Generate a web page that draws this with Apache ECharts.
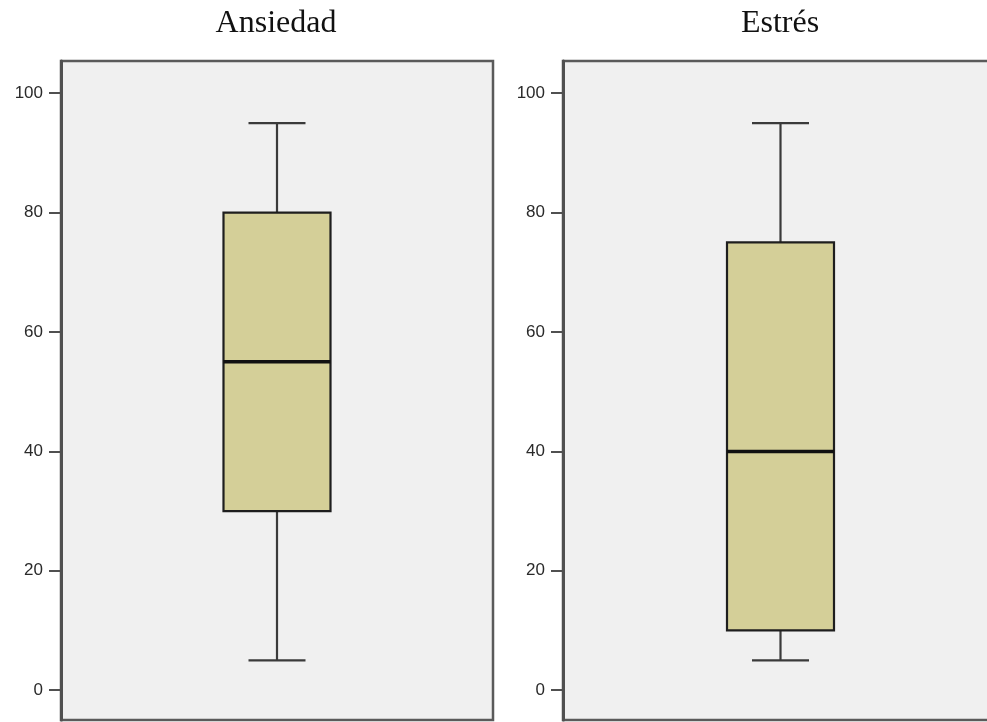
<!DOCTYPE html>
<html>
<head>
<meta charset="utf-8">
<script src="https://cdn.jsdelivr.net/npm/echarts@6/dist/echarts.min.js"></script>
<style>
html,body{margin:0;padding:0;background:#fff;}
#chart{width:987px;height:722px;}
</style>
</head>
<body>
<div id="chart"></div>
<script>
// ---- data ----
const panelTitles = ['Ansiedad', 'Estrés'];
// [min whisker, Q1, median, Q3, max whisker]
const ansiedad = [5, 30, 55, 80, 95];
const estres = [5, 10, 40, 75, 95];
const yTicks = [0, 20, 40, 60, 80, 100];
const yMin = -5;
const yMax = 105.4;

const chart = echarts.init(document.getElementById('chart'));

const BOX_W = 107, CAP_W = 57;

function renderBox(params, api) {
  const c = api.value(0);
  const pLow = api.coord([c, api.value(1)]);
  const pQ1 = api.coord([c, api.value(2)]);
  const pMed = api.coord([c, api.value(3)]);
  const pQ3 = api.coord([c, api.value(4)]);
  const pHigh = api.coord([c, api.value(5)]);
  const x = pMed[0];
  const wStyle = {stroke: '#3a3a3a', lineWidth: 2.2};
  return {
    type: 'group',
    children: [
      {type: 'line', shape: {x1: x, y1: pHigh[1], x2: x, y2: pQ3[1]}, style: wStyle},
      {type: 'line', shape: {x1: x, y1: pQ1[1], x2: x, y2: pLow[1]}, style: wStyle},
      {type: 'line', shape: {x1: x - CAP_W / 2, y1: pHigh[1], x2: x + CAP_W / 2, y2: pHigh[1]}, style: wStyle},
      {type: 'line', shape: {x1: x - CAP_W / 2, y1: pLow[1], x2: x + CAP_W / 2, y2: pLow[1]}, style: wStyle},
      {type: 'rect', shape: {x: x - BOX_W / 2, y: pQ3[1], width: BOX_W, height: pQ1[1] - pQ3[1]},
        style: {fill: '#d4cf98', stroke: '#1e1e1e', lineWidth: 2.2}},
      {type: 'line', shape: {x1: x - BOX_W / 2, y1: pMed[1], x2: x + BOX_W / 2, y2: pMed[1]},
        style: {stroke: '#111', lineWidth: 3.5}}
    ]
  };
}

function yAxisDef(gridIndex) {
  return {
    type: 'value', gridIndex: gridIndex, min: yMin, max: yMax,
    splitLine: {show: false},
    axisLine: {show: true, lineStyle: {color: '#505050', width: 3}},
    axisTick: {show: true, length: 12, customValues: yTicks, lineStyle: {color: '#505050', width: 2}},
    axisLabel: {show: true, customValues: yTicks, margin: 18, color: '#2a2a2a',
      fontFamily: 'Liberation Sans', fontSize: 17}
  };
}

const titleStyle = {fontFamily: 'Liberation Serif', fontSize: 32, fontWeight: 'normal', color: '#111'};

const option = {
  animation: false,
  backgroundColor: '#ffffff',
  title: [
    {text: panelTitles[0], left: 276, top: 8, textAlign: 'center', padding: 0, textStyle: titleStyle},
    {text: panelTitles[1], left: 780, top: 8, textAlign: 'center', padding: 0, textStyle: titleStyle}
  ],
  grid: [
    {left: 61, top: 61, width: 432, height: 659, show: true, backgroundColor: '#f0f0f0',
      borderColor: '#5a5a5a', borderWidth: 2.5, outerBoundsMode: 'none', containLabel: false},
    {left: 563, top: 61, width: 435, height: 659, show: true, backgroundColor: '#f0f0f0',
      borderColor: '#5a5a5a', borderWidth: 2.5, outerBoundsMode: 'none', containLabel: false}
  ],
  xAxis: [
    {type: 'category', gridIndex: 0, data: [panelTitles[0]], show: false},
    {type: 'category', gridIndex: 1, data: [panelTitles[1]], show: false}
  ],
  yAxis: [yAxisDef(0), yAxisDef(1)],
  series: [
    {type: 'custom', xAxisIndex: 0, yAxisIndex: 0, renderItem: renderBox,
      encode: {x: 0, y: [1, 2, 3, 4, 5]},
      data: [[0].concat(ansiedad)]},
    {type: 'custom', xAxisIndex: 1, yAxisIndex: 1, renderItem: renderBox,
      encode: {x: 0, y: [1, 2, 3, 4, 5]},
      data: [[0].concat(estres)]}
  ]
};
chart.setOption(option);
</script>
</body>
</html>
